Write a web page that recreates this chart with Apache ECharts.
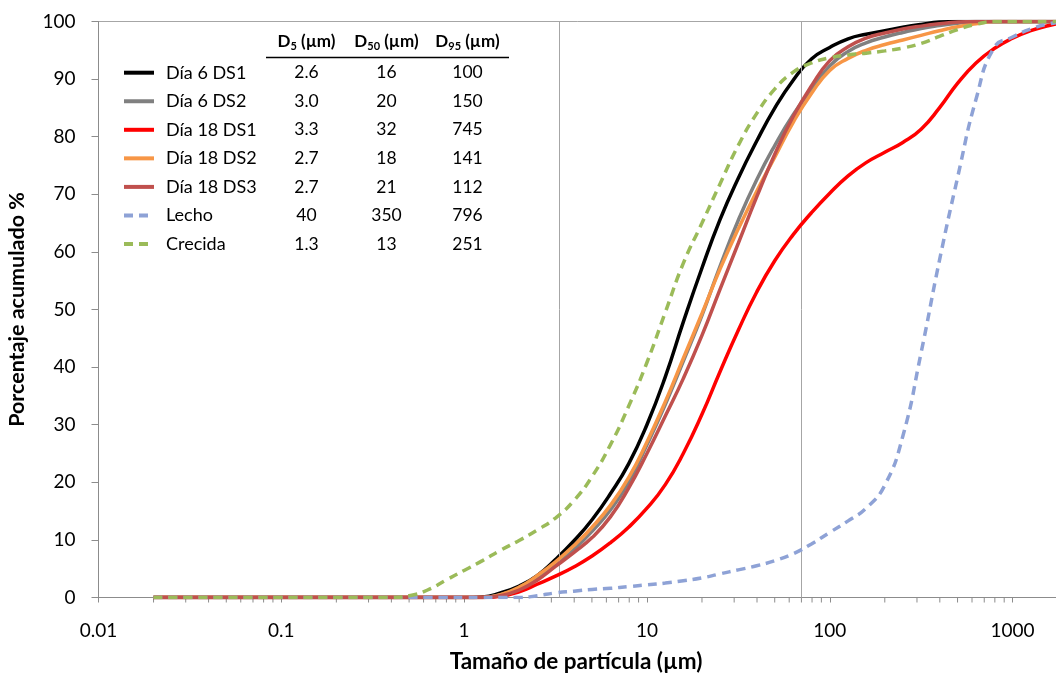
<!DOCTYPE html>
<html>
<head>
<meta charset="utf-8">
<script src="https://cdn.jsdelivr.net/npm/echarts@6/dist/echarts.min.js"></script>
<style>
html,body{margin:0;padding:0;background:#fff;}
#c{width:1056px;height:675px;}
</style>
</head>
<body>
<div id="c"></div>
<script>
// ---- data ----
const seriesNames = ['Día 6 DS1','Día 6 DS2','Día 18 DS1','Día 18 DS2','Día 18 DS3','Lecho','Crecida'];
const d5Values  = ['2.6','3.0','3.3','2.7','2.7','40','1.3'];
const d50Values = ['16','20','32','18','21','350','13'];
const d95Values = ['100','150','745','141','112','796','251'];
const xTickLabels = ['0.01','0.1','1','10','100','1000'];
const refLines = [3.3, 70];

// particle size classes (µm)
const sizes = [0.02, 0.398, 0.501, 0.631, 0.794, 1, 1.26, 1.58, 2, 2.51, 3.16, 3.98, 5.01, 6.31, 7.94, 10, 12.6, 15.8, 20, 25.1, 31.6, 39.8, 50.1, 63.1, 79.4, 100, 126, 158, 200, 251, 316, 398, 501, 631, 794, 1000, 1259, 1585, 1995];
// cumulative % passing for each size class
const dia6ds1  = [0,0,0,0,0, 0,0.1,0.8,2.0,3.8, 6.6,9.8,13.5,18.0,23.2, 30.0,38.3,47.8,57.2,65.6, 72.8,79.2,85.0,89.8,93.5, 95.5,97.0,97.8,98.4,99.0, 99.5,99.9,100,100,100, 100,100,100,100];
const dia6ds2  = [0,0,0,0,0, 0,0,0.5,1.6,3.3, 5.6,8.3,11.5,15.2,20.0, 26.5,33.5,41.0,49.0,57.5, 65.5,72.5,78.5,83.8,88.2, 92.3,94.8,96.3,97.3,98.1, 98.8,99.3,99.7,100,100, 100,100,100,100];
const dia18ds1 = [0,0,0,0,0, 0,0,0.2,1.0,2.3, 3.7,5.3,7.2,9.5,12.2, 15.5,19.6,25.0,31.8,39.2, 46.4,53.0,58.5,63.0,66.8, 70.2,73.2,75.5,77.3,79.0, 81.3,85.0,89.3,92.8,95.3, 97.1,98.4,99.3,100];
const dia18ds2 = [0,0,0,0,0, 0,0,0.5,1.8,3.8, 6.2,9.0,12.2,16.0,20.8, 27.0,34.0,41.5,49.3,57.0, 64.0,70.5,76.5,82.5,87.5, 91.5,93.6,95.0,96.0,96.8, 97.6,98.4,99.1,99.6,100, 100,100,100,100];
const dia18ds3 = [0,0,0,0,0, 0,0,0.3,1.3,3.0, 5.4,7.8,10.4,14.0,19.0, 25.0,31.5,38.0,45.5,53.5, 61.5,69.5,77.0,83.5,88.8, 93.2,95.6,97.1,98.0,98.7, 99.2,99.6,99.9,100,100, 100,100,100,100];
const lecho    = [0,0,0,0,0, 0,0,0,0,0.3, 0.8,1.1,1.4,1.6,1.9, 2.2,2.5,2.9,3.4,4.1, 4.8,5.5,6.4,7.6,9.3, 11.3,13.3,15.5,19.5,28.0, 42.5,58.5,73.0,86.5,95.5, 97.3,98.7,99.6,100];
const crecida  = [0,0,0.3,1.3,3.0, 4.7,6.4,8.2,9.9,11.7, 13.8,16.8,21.0,26.5,33.2, 40.8,49.5,58.0,65.0,71.8, 78.5,84.0,88.3,91.2,92.8, 93.7,94.2,94.5,94.9,95.4, 96.2,97.4,98.6,99.5,100, 100,100,100,100];

const seriesValues = [dia6ds1, dia6ds2, dia18ds1, dia18ds2, dia18ds3, lecho, crecida];
const seriesColors = ['#000000','#808080','#FF0000','#F79646','#C0504D','#8EA2D6','#9BBB59'];
const seriesDash = ['solid','solid','solid','solid','solid',[9,6],[9,6]];

// minor tick positions of the log axis (2..9 in each decade)
const minorTicks = [];
for (let e = -2; e <= 2; e++) for (let m = 2; m <= 9; m++) minorTicks.push(+(m * Math.pow(10, e)).toPrecision(6));

const FONT = 'Lato';
const chart = echarts.init(document.getElementById('c'), null, {renderer:'canvas'});

const series = seriesNames.map((n, i) => ({
  name: n, type: 'line', data: sizes.map((s, j) => [s, seriesValues[i][j]]), smooth: 0.5,
  showSymbol: false, symbol: 'none', legendIcon: 'none', z: 3 + i,
  lineStyle: {color: seriesColors[i], width: 3.5, type: seriesDash[i], cap: 'butt'},
  itemStyle: {color: seriesColors[i]},
  animation: false
}));
series[0].markLine = {
  silent: true, symbol: 'none', label: {show: false}, animation: false,
  lineStyle: {color: '#A6A6A6', width: 1, type: 'solid'},
  data: refLines.map(v => ({xAxis: v}))
};
series.push({
  type: 'custom', silent: true, z: 1, clip: false, animation: false,
  data: minorTicks.map(v => [v, 0]),
  renderItem: (params, api) => {
    const p = api.coord([api.value(0), 0]);
    return {type: 'line', shape: {x1: p[0], y1: p[1], x2: p[0], y2: p[1] + 5}, style: {stroke: '#8C8C8C', lineWidth: 1}};
  }
});

// table graphics
const colX = [306.5, 386.5, 467.5];
const rowY0 = 72.7, rowStep = 28.55;
const graphics = [];
const headers = ['5','50','95'];
headers.forEach((h, j) => {
  graphics.push({type: 'text', x: colX[j], y: 42, z: 10, style: {
    text: 'D{s|' + h + '} (µm)', textAlign: 'center', textVerticalAlign: 'middle',
    font: 'bold 17px ' + FONT, fill: '#000',
    rich: {s: {fontSize: 11, fontWeight: 'bold', fontFamily: FONT, padding: [9, 0, 0, 0]}}
  }});
});
graphics.push({type: 'line', z: 10, shape: {x1: 266, y1: 57.5, x2: 509, y2: 57.5}, style: {stroke: '#000', lineWidth: 1.5}});
[d5Values, d50Values, d95Values].forEach((col, j) => {
  col.forEach((t, i) => {
    graphics.push({type: 'text', x: colX[j], y: rowY0 + i * rowStep, z: 10, style: {
      text: t, textAlign: 'center', textVerticalAlign: 'middle', font: '17.5px ' + FONT, fill: '#000'
    }});
  });
});

chart.setOption({
  animation: false,
  backgroundColor: '#fff',
  grid: {left: 98.5, top: 21.5, right: -11.6, bottom: 77.5, show: true, borderColor: '#A6A6A6', borderWidth: 1, outerBoundsMode: 'none', containLabel: false},
  legend: {
    data: seriesNames, orient: 'vertical', left: 122, top: rowY0 - 10, padding: 0,
    itemWidth: 30, itemHeight: 20, itemGap: rowStep - 20, selectedMode: false,
    itemStyle: {opacity: 0}, lineStyle: {width: 4},
    textStyle: {fontFamily: FONT, fontSize: 18, color: '#000', padding: [0, 0, 0, 7], lineHeight: 20}
  },
  xAxis: {
    type: 'log', min: 0.01, max: 2000, logBase: 10,
    name: 'Tamaño de partícula (µm)', nameLocation: 'middle', nameGap: 53,
    nameTextStyle: {fontFamily: FONT, fontWeight: 'bold', fontSize: 22.5, color: '#000', padding: [0, 14, 0, 0]},
    axisLine: {show: true, lineStyle: {color: '#8C8C8C', width: 1}},
    axisTick: {show: true, inside: false, length: 5, lineStyle: {color: '#8C8C8C'}},
    minorTick: {show: false},
    splitLine: {show: false},
    axisLabel: {fontFamily: FONT, fontSize: 19, color: '#000', margin: 24, showMaxLabel: false,
      formatter: v => { const s = String(+(+v).toPrecision(6)); return xTickLabels.indexOf(s) >= 0 ? s : ''; }}
  },
  yAxis: {
    type: 'value', min: 0, max: 100, interval: 10,
    name: 'Porcentaje acumulado %', nameLocation: 'middle', nameGap: 70,
    nameTextStyle: {fontFamily: FONT, fontWeight: 'bold', fontSize: 21.5, color: '#000'},
    axisLine: {show: true, lineStyle: {color: '#8C8C8C', width: 1}},
    axisTick: {show: true, inside: false, length: 7, lineStyle: {color: '#8C8C8C'}},
    splitLine: {show: false},
    axisLabel: {fontFamily: FONT, fontSize: 19, color: '#000', margin: 23}
  },
  series: series,
  graphic: graphics
});
</script>
</body>
</html>
